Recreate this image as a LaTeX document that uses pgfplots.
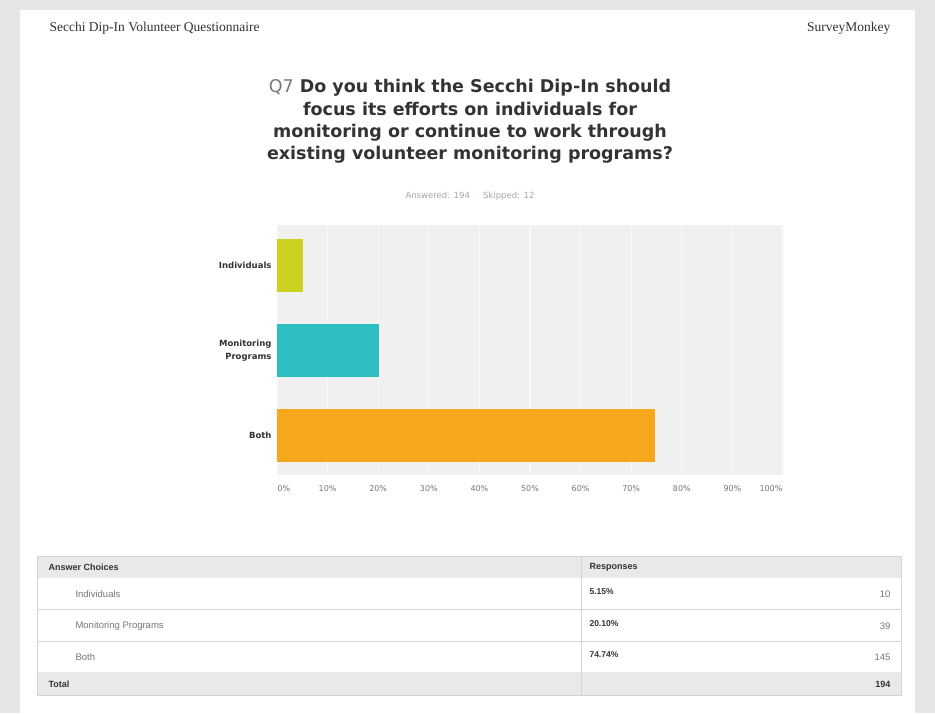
\documentclass[border=0pt]{standalone}
\usepackage{pgfplots}
\pgfplotsset{compat=1.18}
\usepackage{fontspec}
\setmainfont{Liberation Sans}
\newfontfamily\serif{Liberation Serif}
\newfontfamily\dejavu{DejaVu Sans}
\definecolor{pagegray}{HTML}{E6E6E6}
\definecolor{plotbg}{HTML}{F0F0F0}
\definecolor{gridc}{HTML}{F9F9F9}
\definecolor{cind}{HTML}{CDD120}
\definecolor{cmon}{HTML}{2EBFC0}
\definecolor{cboth}{HTML}{F5A81C}
\definecolor{rowgray}{HTML}{E9E9E9}
\definecolor{linegray}{HTML}{D4D4D4}
\definecolor{txt}{HTML}{333333}
\definecolor{ltxt}{HTML}{777777}
\begin{document}
\begin{tikzpicture}[x=1pt,y=1pt]
\fill[pagegray] (0,0) rectangle (935,713);
\useasboundingbox (0,0) rectangle (935,713);
\fill[white] (20,0) rectangle (915,703);
% header
\node[anchor=west,font=\serif\fontsize{13.5}{16}\selectfont,text=txt] at (46,713-28) {Secchi Dip-In Volunteer Questionnaire};
\node[anchor=east,font=\serif\fontsize{13.5}{16}\selectfont,text=txt] at (894,713-28) {SurveyMonkey};
% title
\node[align=center,font=\dejavu\bfseries\fontsize{17.5}{22.3}\selectfont,text=txt,anchor=north] at (470,713-76)
{{\mdseries\color{ltxt}Q7} Do you think the Secchi Dip-In should\\focus its efforts on individuals for\\monitoring or continue to work through\\existing volunteer monitoring programs?};
\node[font=\dejavu\fontsize{8.5}{10}\selectfont,text=black!35] at (470,713-196) {Answered: 194 \ $\cdot$ \ Skipped: 12};
% chart
\begin{axis}[
  at={(277pt,238pt)}, anchor=south west,
  width=506pt, height=250pt, scale only axis,
  xbar, bar width=53pt,
  xmin=0, xmax=100,
  ymin=-0.47, ymax=2.46, y dir=reverse,
  ytick={0,1,2},
  yticklabels={Individuals,{Monitoring\\Programs},Both},
  yticklabel style={align=right,font=\dejavu\bfseries\fontsize{8.5}{13}\selectfont,text=txt},
  xtick={0,10,...,100},
  xticklabels={\hspace*{14pt}0\%,10\%,20\%,30\%,40\%,50\%,60\%,70\%,80\%,90\%,100\%\hspace*{24pt}},
  xticklabel style={font=\dejavu\fontsize{8}{9}\selectfont,text=ltxt},
  axis background/.style={fill=plotbg},
  axis line style={draw=none},
  major tick length=0pt,
  xmajorgrids, grid style={gridc, line width=1.2pt},
  xticklabel shift=7pt,
  yticklabel shift=2pt,
]
\addplot[fill=cind, draw=none, bar shift=0pt] coordinates {(5.15,0)};
\addplot[fill=cmon, draw=none, bar shift=0pt] coordinates {(20.10,1)};
\addplot[fill=cboth, draw=none, bar shift=0pt] coordinates {(74.74,2)};
\end{axis}
% table
\fill[rowgray] (37,713-556) rectangle (901,713-578);
\fill[rowgray] (37,713-672) rectangle (901,713-695);
\draw[linegray,line width=0.6pt] (37,713-609) -- (901,713-609);
\draw[linegray,line width=0.6pt] (37,713-641) -- (901,713-641);
\draw[linegray,line width=0.6pt] (37,713-556) rectangle (901,713-695);
\draw[linegray,line width=0.6pt] (581,713-556) -- (581,713-695);
\begin{scope}[every node/.style={font=\fontsize{9.5}{11}\selectfont,text=txt}]
\node[anchor=west,font=\bfseries\fontsize{9}{11}\selectfont] at (45,713-567) {Answer Choices};
\node[anchor=west,font=\bfseries\fontsize{9}{11}\selectfont] at (586,713-567) {Responses};
\node[anchor=west,text=ltxt] at (72,713-594) {Individuals};
\node[anchor=west,text=ltxt] at (72,713-626) {Monitoring Programs};
\node[anchor=west,text=ltxt] at (72,713-657) {Both};
\node[anchor=west,font=\bfseries\fontsize{8.5}{11}\selectfont] at (586,713-592) {5.15\%};
\node[anchor=west,font=\bfseries\fontsize{8.5}{11}\selectfont] at (586,713-624) {20.10\%};
\node[anchor=west,font=\bfseries\fontsize{8.5}{11}\selectfont] at (586,713-655) {74.74\%};
\node[anchor=east,text=ltxt] at (894,713-594) {10};
\node[anchor=east,text=ltxt] at (894,713-626) {39};
\node[anchor=east,text=ltxt] at (894,713-657) {145};
\node[anchor=west,font=\bfseries\fontsize{9}{11}\selectfont] at (45,713-684) {Total};
\node[anchor=east,font=\bfseries\fontsize{9}{11}\selectfont] at (894,713-684) {194};
\end{scope}
\end{tikzpicture}
\end{document}
